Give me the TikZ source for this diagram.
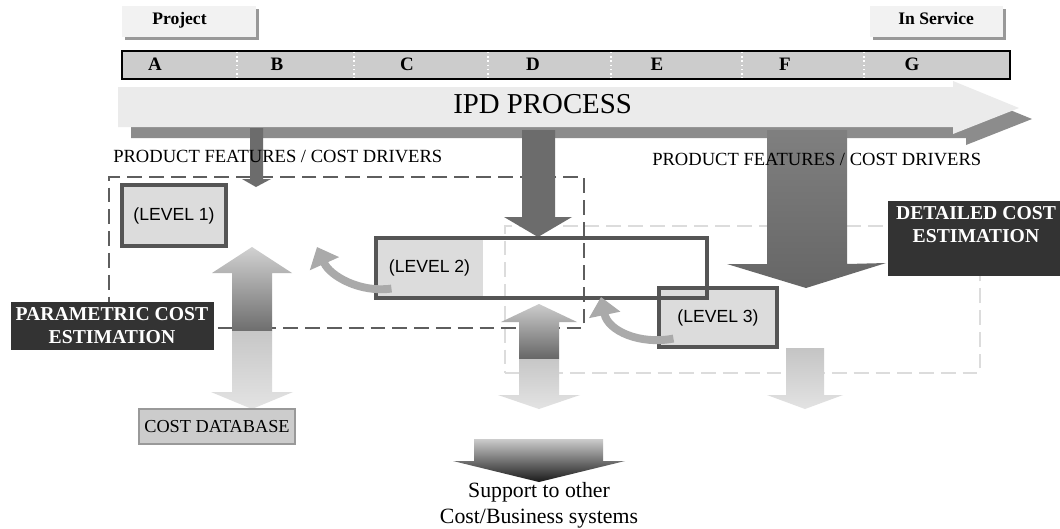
\documentclass[tikz,border=0pt]{standalone}
\usepackage{fontspec}
\setmainfont{Liberation Serif}
\newfontfamily\levelfont{Liberation Sans}
\usetikzlibrary{arrows.meta,fit,positioning,shadows}

\definecolor{tabgray}{HTML}{F2F2F2}
\definecolor{bargray}{HTML}{CCCCCC}
\definecolor{bandgray}{HTML}{EBEBEB}
\definecolor{bandshadow}{HTML}{8C8C8C}
\definecolor{darkarrow}{HTML}{6C6C6C}
\definecolor{levelfill}{HTML}{DCDCDC}
\definecolor{levelline}{HTML}{555555}
\definecolor{bannerfill}{HTML}{333333}
\definecolor{backgray}{HTML}{AAAAAA}
\definecolor{zonegray}{HTML}{5E5E5E}
\definecolor{zonelight}{HTML}{DCDCDC}

\begin{document}
\begin{tikzpicture}[x=0.025cm, y=-0.025cm,
    tab/.style={fill=tabgray, inner sep=0pt,
      drop shadow={shadow xshift=2pt, shadow yshift=-2pt, fill=black!40, opacity=1}},
    tablabel/.style={font=\bfseries\fontsize{12.5}{14}\selectfont, inner sep=0pt, anchor=base west},
    phase/.style={font=\bfseries\fontsize{13.5}{15}\selectfont, inner sep=0pt, anchor=base},
    divider/.style={draw=white, dotted, line width=1pt},
    feature/.style={font=\fontsize{13.2}{15}\selectfont, inner sep=0pt, anchor=base west},
    level/.style={fill=levelfill, draw=levelline, line width=2.2pt, inner sep=0pt},
    levellabel/.style={font=\levelfont\fontsize{12.5}{14}\selectfont, inner sep=0pt},
    frame/.style={draw=levelline, line width=2.2pt, inner sep=0pt},
    banner/.style={fill=bannerfill, inner sep=0pt},
    bannertext/.style={text=white, font=\bfseries\fontsize{14}{16.3}\selectfont,
      align=center, inner sep=0pt},
    paramzone/.style={draw=zonegray, line width=1.4pt, dash pattern=on 10.5pt off 5pt, inner sep=0pt},
    detailzone/.style={draw=zonelight, line width=1.3pt, dash pattern=on 10.5pt off 5pt, inner sep=0pt},
    backarrow/.style={draw=backgray, line width=5.6pt, -{Triangle[width=22pt,length=13pt]}},
    database/.style={fill=bargray, draw=black!40, line width=1.2pt, inner sep=0pt}
  ]
  \useasboundingbox (0,0) rectangle (1060,528);
  \fill[white] (0,0) rectangle (1060,528);

  % start and end tabs
  \node[tab, fit={(122,6) (256,37)}] (projtab) {};
  \node[tablabel] (projlabel) at (152,24) {Project};
  \node[tab, fit={(870,6) (1003,37)}] (servtab) {};
  \node[tablabel] (servlabel) at (898,24) {In Service};

  % phases
  \node[fill=bargray, draw=black, line width=1.3pt, inner sep=0pt,
    fit={(122,51) (1010,79)}] (phasebar) {};
  \foreach \px in {237,354,488,611,742,864}
    \draw[divider] (\px,52) -- (\px,78);
  \foreach \px/\ph in {155/A,277/B,407/C,533/D,657/E,785/F,912/G}
    \node[phase] (ph\ph) at (\px,70) {\ph};

  % process band
  \fill[bandshadow, shift={(13,11)}] (118,87) -- (953,87) -- (953,81) -- (1019,108)
    -- (953,134) -- (953,127) -- (118,127) -- cycle;
  \fill[bandgray] (118,87) -- (953,87) -- (953,81) -- (1019,108)
    -- (953,134) -- (953,127) -- (118,127) -- cycle;
  \node[inner sep=0pt, anchor=base west, font=\fontsize{20.5}{24}\selectfont] (ipd) at (453,113) {IPD PROCESS};

  % estimation zones
  \node[detailzone, fit={(505,226) (980,373)}] (detailzone) {};
  \node[paramzone, fit={(109,177) (584,328)}] (paramzone) {};

  % feature arrows
  \fill[darkarrow] (250,128) -- (263,128) -- (263,179) -- (271,179) -- (256,187)
    -- (242,179) -- (250,179) -- cycle;
  \fill[darkarrow] (522,130) -- (555,130) -- (555,217) -- (572,217) -- (538,237)
    -- (504,217) -- (522,217) -- cycle;
  \shade[top color=black!50, bottom color=black!60] (767,130) -- (847,130) -- (847,264)
    -- (886,263) -- (806,288) -- (727,264) -- (767,264) -- cycle;
  \node[feature] (featleft) at (113,162) {PRODUCT FEATURES / COST DRIVERS};
  \node[feature] (featright) at (652,165) {PRODUCT FEATURES / COST DRIVERS};

  % levels
  \node[level, fit={(122,185) (226,246)}, label={[levellabel]center:(LEVEL 1)}] (lvlone) {};
  \node[level, fit={(659,288) (777,347)}, label={[levellabel]center:(LEVEL 3)}] (lvlthree) {};
  \node[level, draw=none, fit={(376,238) (483,298)}, label={[levellabel]center:(LEVEL 2)}] (lvltwo) {};
  \node[frame, fit={(376,238) (707,298)}] (lvltwoframe) {};

  % database and support arrows
  \shade[top color=black!18, bottom color=black!57] (252,247) -- (292,273) -- (272,273)
    -- (272,331) -- (232,331) -- (232,273) -- (212,273) -- cycle;
  \shade[top color=black!22, bottom color=black!11] (232,331) -- (272,331) -- (272,392)
    -- (293,392) -- (252,409) -- (211,392) -- (232,392) -- cycle;
  \shade[top color=black!20, bottom color=black!60] (539,304) -- (577,322) -- (559,322)
    -- (559,359) -- (519,359) -- (519,322) -- (501,322) -- cycle;
  \shade[top color=black!22, bottom color=black!11] (519,359) -- (559,359) -- (559,395)
    -- (580,395) -- (539,409) -- (498,395) -- (519,395) -- cycle;
  \shade[top color=black!23, bottom color=black!11] (786,348) -- (824,348) -- (824,395)
    -- (843,395) -- (805,409) -- (767,395) -- (786,395) -- cycle;
  \shade[top color=black!20, bottom color=black!90] (474,439) -- (603,439) -- (603,461)
    -- (625,461) -- (539,482) -- (453,461) -- (474,461) -- cycle;
  \coordinate (sptip) at (539,482);

  % banners
  \node[banner, fit={(11,302) (214,350)}] (parambox) {};
  \node[bannertext] (paramtxt) at (112,326) {PARAMETRIC COST\\ESTIMATION};
  \node[banner, fit={(888,201) (1070,276)}] (detailbox) {};
  \node[bannertext] (detailtxt) at (976,225) {DETAILED COST\\ESTIMATION};

  % feedback between levels
  \coordinate (oneback) at (317,247);
  \coordinate (twoback) at (601,297);
  \draw[backarrow] ([shift={(17,-11)}]lvltwo.south west) .. controls (360,293) and (330,276) .. (oneback);
  \draw[backarrow] ([shift={(16,-10)}]lvlthree.south west) .. controls (640,345) and (608,331) .. (twoback);

  \node[database, fit={(139,409) (295,444)},
    label={[inner sep=0pt, font=\fontsize{13}{15}\selectfont]center:COST DATABASE}] (costdb) {};
  \node[below=0pt of sptip, inner sep=0pt, align=center,
    font=\fontsize{15.5}{18.4}\selectfont] (support) {Support to other\\Cost/Business systems};
\end{tikzpicture}
\end{document}
